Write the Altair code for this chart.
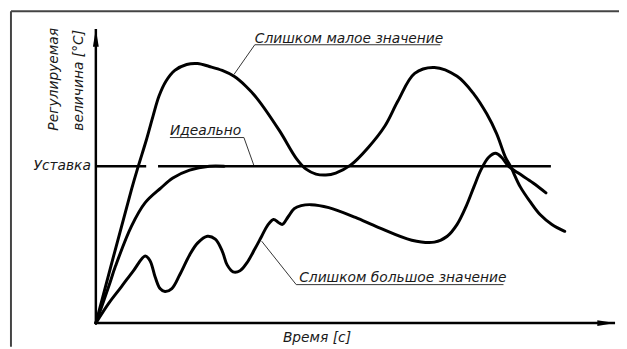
import altair as alt
import pandas as pd

# ---- data (time t, value v; setpoint = 159) ----
setpoint = 159

small_t = [0, 36, 43, 51, 58, 64, 71, 80, 92, 103, 115, 128, 140, 152, 163, 186, 203, 213, 223, 233,
           243, 258, 276, 293, 306, 323, 343, 366, 383, 396, 406, 415, 420, 430, 440, 450, 462, 475]
small_v = [0, 135, 159, 185, 210, 230, 245, 256, 262, 263, 260, 256, 250, 240, 228, 195, 167, 156, 151, 150,
           152, 160, 178, 200, 225, 253, 259, 250, 232, 212, 192, 168, 159, 138, 123, 110, 100, 93]

ideal_t = [0, 13, 20, 36, 50, 66, 78, 95, 115, 130]
ideal_v = [0, 37, 58, 98, 122, 137, 147, 155, 159, 159]

large_t = [0, 13, 26, 38, 50, 55, 60, 65, 70, 77, 85, 95, 103, 113, 121, 128, 133, 139, 146, 153, 161,
           168, 174, 180, 185, 189, 195, 201, 208, 218, 236, 263, 286, 320, 343, 356, 366, 375, 383, 390, 398,
           405, 411, 418, 428, 443, 456]
large_v = [0, 20, 37, 53, 68, 63, 47, 35, 32, 35, 49, 69, 81, 88, 85, 73, 59, 52, 53, 61, 75,
           88, 99, 105, 102, 100, 108, 116, 119, 120, 117, 107, 97, 84, 82, 88, 100, 118, 138, 155, 168,
           172, 168, 159, 152, 142, 132]

setpoint_t_start = [0, 63]
setpoint_t_end = [51, 461]

x_axis_end = 526
y_axis_end = 298

label_small = "Слишком малое значение"
label_ideal = "Идеально"
label_large = "Слишком большое значение"
label_setpoint = "Уставка"
label_x = "Время  [с]"
label_y1 = "Регулируемая"
label_y2 = "величина  [°С]"

# leader lines: (t, v) polylines
leader_small = [(140, 252), (161, 282), (349, 282)]
leader_ideal = [(160, 160), (150, 188), (75, 188)]
leader_large = [(168, 83), (203, 39), (413, 39)]

frame_left_t = -86
frame_top_v = 316

# ---- build tables ----
curves = pd.DataFrame(
    [dict(t=t, v=v, s="small") for t, v in zip(small_t, small_v)]
    + [dict(t=t, v=v, s="ideal") for t, v in zip(ideal_t, ideal_v)]
    + [dict(t=t, v=v, s="large") for t, v in zip(large_t, large_v)]
)
leaders = pd.DataFrame(
    [dict(t=t, v=v, s=name, o=i)
     for name, pts in [("a", leader_small), ("b", leader_ideal), ("c", leader_large)]
     for i, (t, v) in enumerate(pts)]
)
sp = pd.DataFrame({"t": setpoint_t_start, "t2": setpoint_t_end, "v": [setpoint] * 2})

X = alt.Scale(domain=[-89, 530], nice=False, zero=False)
Y = alt.Scale(domain=[-24, 317], nice=False, zero=False)

def xe(f="t"):
    return alt.X(f"{f}:Q", scale=X, axis=None)

def ye(f="v"):
    return alt.Y(f"{f}:Q", scale=Y, axis=None)

FONT = "DejaVu Sans"
TXT = "#1a1a1a"

frame_v = alt.Chart(pd.DataFrame({"t": [frame_left_t], "v": [frame_top_v], "v2": [-24]})).mark_rule(
    color="#444", strokeWidth=2).encode(x=xe(), y=ye(), y2="v2:Q")
frame_h = alt.Chart(pd.DataFrame({"t": [frame_left_t], "t2": [530], "v": [frame_top_v]})).mark_rule(
    color="#444", strokeWidth=2).encode(x=xe(), x2="t2:Q", y=ye())

axes = alt.Chart(pd.DataFrame({"t": [0, 0], "t2": [0, x_axis_end], "v": [0, 0], "v2": [y_axis_end, 0]})).mark_rule(
    color="black", strokeWidth=2.5).encode(x=xe(), x2="t2:Q", y=ye(), y2="v2:Q")

arrow_x = alt.Chart(pd.DataFrame({"t": [x_axis_end - 9], "v": [0]})).mark_point(
    shape="M1,0L-1,-0.33L-1,0.33Z", size=324, filled=True, color="black", opacity=1).encode(x=xe(), y=ye())
arrow_y = alt.Chart(pd.DataFrame({"t": [0], "v": [y_axis_end - 9]})).mark_point(
    shape="M0,-1L-0.33,1L0.33,1Z", size=324, filled=True, color="black", opacity=1).encode(x=xe(), y=ye())

setline = alt.Chart(sp).mark_rule(color="black", strokeWidth=2.5).encode(x=xe(), x2="t2:Q", y=ye())

lines = alt.Chart(curves).mark_line(interpolate="catmull-rom", color="black", strokeWidth=3,
                                    strokeCap="round", strokeJoin="round").encode(
    x=xe(), y=ye(), detail="s:N")

lead = alt.Chart(leaders).mark_line(color="#333", strokeWidth=1).encode(
    x=xe(), y=ye(), detail="s:N", order="o:Q")

texts = pd.DataFrame([
    dict(t=161, v=284, txt=label_small),
    dict(t=75, v=191, txt=label_ideal),
    dict(t=206, v=42, txt=label_large),
])
labels = alt.Chart(texts).mark_text(align="left", baseline="alphabetic", font=FONT, fontStyle="italic",
                                    fontSize=14, color=TXT).encode(x=xe(), y=ye(), text="txt:N")

sp_label = alt.Chart(pd.DataFrame({"t": [-5], "v": [setpoint], "txt": [label_setpoint]})).mark_text(
    align="right", baseline="middle", font=FONT, fontStyle="italic", fontSize=14, color=TXT).encode(
    x=xe(), y=ye(), text="txt:N")

x_label = alt.Chart(pd.DataFrame({"t": [224], "v": [-19], "txt": [label_x]})).mark_text(
    align="center", baseline="alphabetic", font=FONT, fontStyle="italic", fontSize=14, color=TXT).encode(
    x=xe(), y=ye(), text="txt:N")

y_label = alt.Chart(pd.DataFrame({"t": [-42, -17], "v": [195, 195], "txt": [label_y1, label_y2]})).mark_text(
    align="left", baseline="middle", angle=270, font=FONT, fontStyle="italic", fontSize=14, color=TXT).encode(
    x=xe(), y=ye(), text="txt:N")

chart = alt.layer(frame_v, frame_h, setline, lines, axes, arrow_x, arrow_y, lead, labels, sp_label,
                  x_label, y_label).properties(
    width=619, height=341, padding=0, autosize=alt.AutoSizeParams(type="none"),
    background="white",
).configure_view(stroke=None)

chart.save("out.html", embed_options={"renderer": "svg", "actions": False})
